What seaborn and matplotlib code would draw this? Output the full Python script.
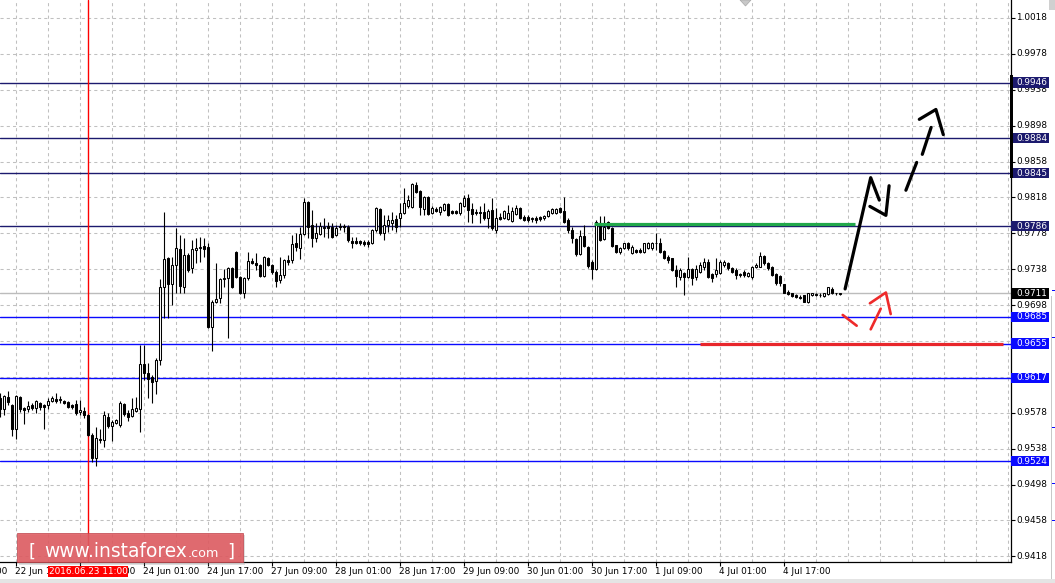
import numpy as np
import pandas as pd
import matplotlib
matplotlib.use("Agg")
import matplotlib.pyplot as plt
import seaborn as sns
from matplotlib.patches import Rectangle, Polygon
from matplotlib.transforms import blended_transform_factory

# ---------------- data (prices in pips, 0.9711 -> 9711) ----------------
open_p = [
    9594, 9582, 9596, 9587, 9560, 9596, 9583, 9582, 9587, 9583,
    9589, 9587, 9587, 9591, 9593, 9592, 9591, 9590, 9587, 9588,
    9579, 9580, 9576, 9553, 9528, 9548, 9548, 9573, 9563, 9567,
    9564, 9588, 9578, 9574, 9580, 9582, 9632, 9622, 9618, 9613,
    9637, 9718, 9751, 9721, 9743, 9761, 9718, 9754, 9739, 9759,
    9762, 9764, 9763, 9674, 9702, 9706, 9727, 9728, 9739, 9757,
    9729, 9712, 9728, 9747, 9745, 9743, 9730, 9751, 9743, 9735,
    9726, 9732, 9748, 9748, 9767, 9762, 9777, 9813, 9787, 9773,
    9777, 9785, 9786, 9785, 9776, 9786, 9786, 9785, 9769, 9769,
    9769, 9768, 9768, 9767, 9782, 9805, 9778, 9787, 9789, 9794,
    9795, 9801, 9808, 9807, 9832, 9825, 9805, 9818, 9801, 9805,
    9802, 9804, 9811, 9803, 9803, 9801, 9808, 9817, 9805, 9802,
    9802, 9802, 9795, 9804, 9782, 9796, 9795, 9794, 9792, 9800,
    9806, 9796, 9796, 9794, 9795, 9796, 9795, 9797, 9801, 9801,
    9806, 9803, 9793, 9782, 9772, 9755, 9775, 9763, 9746, 9738,
    9789, 9772, 9791, 9784, 9765, 9757, 9762, 9767, 9756, 9759,
    9759, 9757, 9762, 9762, 9767, 9767, 9758, 9752, 9751, 9737,
    9729, 9734, 9729, 9738, 9729, 9735, 9741, 9746, 9733, 9733,
    9734, 9743, 9745, 9739, 9737, 9733, 9735, 9730, 9729, 9741,
    9741, 9753, 9745, 9741, 9733, 9730, 9721, 9713, 9711, 9709,
    9707, 9709, 9701, 9709, 9710, 9709, 9708, 9710, 9716, 9711, 9710,
]
close_p = [
    9582, 9597, 9590, 9560, 9597, 9582, 9581, 9586, 9583, 9591,
    9584, 9584, 9591, 9594, 9591, 9593, 9589, 9584, 9584, 9578,
    9581, 9576, 9553, 9528, 9550, 9549, 9576, 9563, 9568, 9570,
    9589, 9577, 9573, 9582, 9583, 9632, 9622, 9616, 9612, 9637,
    9718, 9749, 9721, 9743, 9762, 9719, 9754, 9737, 9761, 9762,
    9763, 9761, 9674, 9702, 9705, 9727, 9728, 9739, 9718, 9729,
    9712, 9728, 9747, 9745, 9743, 9730, 9752, 9743, 9735, 9725,
    9732, 9748, 9746, 9766, 9763, 9777, 9813, 9785, 9773, 9778,
    9786, 9784, 9784, 9774, 9784, 9785, 9785, 9771, 9767, 9767,
    9767, 9766, 9766, 9782, 9806, 9778, 9787, 9793, 9793, 9785,
    9801, 9812, 9815, 9833, 9824, 9807, 9818, 9800, 9806, 9803,
    9807, 9811, 9798, 9801, 9801, 9812, 9817, 9804, 9800, 9801,
    9801, 9795, 9803, 9784, 9795, 9794, 9803, 9801, 9803, 9806,
    9795, 9793, 9793, 9795, 9793, 9794, 9797, 9803, 9805, 9805,
    9802, 9791, 9782, 9773, 9755, 9775, 9764, 9742, 9738, 9791,
    9771, 9785, 9784, 9764, 9757, 9762, 9767, 9762, 9763, 9757,
    9757, 9767, 9767, 9767, 9767, 9757, 9751, 9748, 9737, 9730,
    9737, 9729, 9738, 9728, 9738, 9743, 9746, 9729, 9728, 9737,
    9746, 9746, 9739, 9735, 9732, 9732, 9732, 9734, 9741, 9743,
    9753, 9745, 9739, 9732, 9723, 9723, 9712, 9710, 9708, 9707,
    9706, 9702, 9711, 9711, 9709, 9709, 9711, 9718, 9711, 9711, 9711,
]
high_p = [
    9600, 9598, 9602, 9588, 9598, 9597, 9584, 9591, 9589, 9592,
    9590, 9588, 9594, 9597, 9600, 9597, 9592, 9591, 9588, 9592,
    9592, 9584, 9577, 9555, 9562, 9560, 9580, 9578, 9570, 9571,
    9591, 9589, 9581, 9594, 9596, 9653, 9653, 9633, 9620, 9639,
    9727, 9802, 9752, 9752, 9784, 9776, 9773, 9756, 9771, 9773,
    9774, 9773, 9767, 9704, 9745, 9728, 9738, 9741, 9741, 9758,
    9730, 9729, 9757, 9751, 9756, 9744, 9753, 9752, 9744, 9737,
    9752, 9749, 9754, 9776, 9778, 9785, 9817, 9814, 9804, 9789,
    9791, 9795, 9791, 9789, 9787, 9789, 9788, 9787, 9774, 9774,
    9771, 9771, 9771, 9783, 9807, 9806, 9798, 9798, 9802, 9798,
    9812, 9828, 9821, 9834, 9835, 9826, 9820, 9820, 9808, 9807,
    9808, 9812, 9812, 9804, 9804, 9813, 9821, 9822, 9812, 9805,
    9808, 9812, 9805, 9817, 9806, 9801, 9804, 9810, 9807, 9810,
    9807, 9798, 9798, 9796, 9797, 9797, 9798, 9804, 9806, 9806,
    9807, 9818, 9795, 9785, 9773, 9782, 9787, 9764, 9748, 9793,
    9797, 9797, 9792, 9785, 9765, 9763, 9767, 9768, 9765, 9761,
    9762, 9767, 9768, 9768, 9778, 9773, 9759, 9754, 9751, 9743,
    9739, 9735, 9752, 9739, 9743, 9746, 9751, 9749, 9734, 9751,
    9748, 9748, 9746, 9741, 9739, 9734, 9737, 9735, 9742, 9745,
    9757, 9754, 9746, 9742, 9734, 9732, 9722, 9715, 9712, 9710,
    9709, 9709, 9712, 9712, 9711, 9711, 9712, 9718, 9718, 9712, 9711,
]
low_p = [
    9573, 9576, 9587, 9552, 9549, 9579, 9566, 9579, 9581, 9578,
    9581, 9560, 9582, 9590, 9589, 9589, 9588, 9583, 9582, 9576,
    9576, 9572, 9552, 9523, 9519, 9544, 9540, 9561, 9547, 9566,
    9562, 9574, 9569, 9573, 9579, 9557, 9614, 9594, 9589, 9599,
    9631, 9684, 9684, 9698, 9711, 9711, 9711, 9735, 9734, 9745,
    9746, 9752, 9672, 9647, 9700, 9700, 9718, 9661, 9717, 9728,
    9710, 9706, 9726, 9744, 9737, 9729, 9729, 9742, 9733, 9718,
    9723, 9728, 9743, 9745, 9758, 9749, 9776, 9773, 9763, 9768,
    9776, 9774, 9773, 9773, 9775, 9782, 9779, 9768, 9762, 9766,
    9765, 9764, 9763, 9766, 9779, 9776, 9771, 9779, 9782, 9779,
    9785, 9800, 9806, 9806, 9823, 9798, 9798, 9798, 9800, 9802,
    9798, 9803, 9797, 9800, 9800, 9798, 9807, 9791, 9789, 9798,
    9789, 9793, 9784, 9782, 9778, 9793, 9794, 9793, 9791, 9798,
    9794, 9792, 9791, 9791, 9789, 9792, 9793, 9796, 9800, 9800,
    9801, 9789, 9778, 9767, 9753, 9754, 9763, 9739, 9727, 9737,
    9769, 9771, 9783, 9763, 9756, 9755, 9761, 9759, 9755, 9756,
    9756, 9756, 9761, 9759, 9759, 9756, 9749, 9745, 9736, 9718,
    9726, 9709, 9728, 9720, 9726, 9734, 9737, 9728, 9724, 9729,
    9733, 9741, 9737, 9734, 9727, 9729, 9729, 9729, 9727, 9739,
    9740, 9743, 9737, 9730, 9720, 9719, 9711, 9709, 9707, 9706,
    9705, 9701, 9700, 9708, 9708, 9707, 9707, 9709, 9710, 9709, 9709,
]

# x-axis time labels (bar index -> label)
xlabel_bars = [-12, 4, 20, 36, 52, 68, 84, 100, 116, 132, 148, 164, 180, 196]
xlabel_text = ["22 Jun 01:00", "22 Jun 17:00", "23 Jun 09:00", "24 Jun 01:00",
               "24 Jun 17:00", "27 Jun 09:00", "28 Jun 01:00", "28 Jun 17:00",
               "29 Jun 09:00", "30 Jun 01:00", "30 Jun 17:00", "1 Jul 09:00",
               "4 Jul 01:00", "4 Jul 17:00"]
crosshair_bar = 22
crosshair_label = "2016.06.23 11:00"

# price scale (labels hidden behind level boxes are left out)
ytick_prices = [0.9418, 0.9458, 0.9498, 0.9538, 0.9578, 0.9618, 0.9658, 0.9698,
                0.9738, 0.9778, 0.9818, 0.9858, 0.9898, 0.9938, 0.9978, 1.0018]
ytick_hidden = [0.9618, 0.9658]

# horizontal levels
level_prices = [0.9946, 0.9884, 0.9845, 0.9786, 0.9685, 0.9655, 0.9617, 0.9524]
level_kind = ["navy", "navy", "navy", "navy", "blue", "blue", "blue", "blue"]
bid_price = 0.9711

# drawn annotations (bar index, pips)
green_seg_x = [148.4, 213.7]
green_seg_y = [9788, 9788]
red_seg_x = [174.9, 250.7]
red_seg_y = [9655, 9655]
black_up_x = [211.2, 217.6, 219.75]
black_up_y = [9716, 9840, 9815]
black_v_x = [217.4, 221.4, 222.2]
black_v_y = [9808, 9798, 9831]
black_dash1_x = [226.4, 229.1]
black_dash1_y = [9826, 9857]
black_dash2_x = [230.5, 232.7]
black_dash2_y = [9866, 9896]
black_head_x = [229.75, 233.9, 235.75]
black_head_y = [9905, 9916, 9888]
red1_x = [210.6, 214.1]
red1_y = [9687, 9675]
red2_x = [217.6, 220.1]
red2_y = [9671, 9694]
red_head_x = [217.4, 221.4, 222.6]
red_head_y = [9700, 9712, 9688]

# ---------------- figure ----------------
sns.set_theme(style="white")
plt.rcParams['font.family'] = ['DejaVu Sans']

W, H = 1055, 583
fig = plt.figure(figsize=(W / 100, H / 100), dpi=100)
fig.patch.set_facecolor('white')
AX_R, AX_B = 1011, 562
ax = fig.add_axes([0, (H - AX_B) / H, AX_R / W, AX_B / H])
ax.set_facecolor('white')

df = pd.DataFrame({"o": open_p, "h": high_p, "l": low_p, "c": close_p}) / 10000.0
df["i"] = np.arange(len(df))

ax.set_xlim(-0.075, 252.675)
ax.set_ylim(0.94117, 1.0038)

NAVY = '#1c1a6e'
BLUE = '#0a0aff'
GRID = '#c0c0c0'
FS = 6.4

# grid
for p in ytick_prices:
    ax.axhline(p, color=GRID, lw=0.75, ls=(0, (3, 3)), zorder=0.5)
for b in range(4, 253, 8):
    ax.axvline(b, color=GRID, lw=0.75, ls=(0, (3, 3)), zorder=0.5)

# levels
ax.axhline(bid_price, color='#bcbcbc', lw=1.0, zorder=1)
for p, k in zip(level_prices, level_kind):
    ax.axhline(p, color=NAVY if k == "navy" else BLUE, lw=1.0, zorder=1.2)
ax.axvline(crosshair_bar, color='#ff0000', lw=1.0, zorder=1.3)

# candles
up = df["c"] >= df["o"]
ax.vlines(df["i"], df["l"], df["h"], color='black', lw=0.8, zorder=3)
body_bottom = np.minimum(df["o"], df["c"])
body_h = np.maximum((df["c"] - df["o"]).abs(), 0.00003)
ax.bar(df["i"], body_h, bottom=body_bottom, width=0.5,
       color=np.where(up, 'white', 'black'), edgecolor='black',
       linewidth=0.75, zorder=4)

# annotations
def P(v):
    return np.asarray(v) / 10000.0

ax.plot(green_seg_x, P(green_seg_y), color='#22a84b', lw=2.3, zorder=5, solid_capstyle='butt')
ax.plot(red_seg_x, P(red_seg_y), color='#e8262b', lw=2.3, zorder=5, solid_capstyle='butt')
for xs, ys in [(black_up_x, black_up_y), (black_v_x, black_v_y),
               (black_dash1_x, black_dash1_y), (black_dash2_x, black_dash2_y),
               (black_head_x, black_head_y)]:
    ax.plot(xs, P(ys), color='black', lw=2.3, zorder=6,
            solid_capstyle='round', solid_joinstyle='round')
for xs, ys in [(red1_x, red1_y), (red2_x, red2_y), (red_head_x, red_head_y)]:
    ax.plot(xs, P(ys), color='#ee2a2a', lw=1.9, zorder=6,
            solid_capstyle='round', solid_joinstyle='round')

# spines / ticks
for s in ['left', 'top']:
    ax.spines[s].set_visible(False)
for s in ['right', 'bottom']:
    ax.spines[s].set_color('black')
    ax.spines[s].set_linewidth(0.9)
ax.set_xticks([b for b in xlabel_bars if b >= 0])
ax.set_xticklabels([])
ax.tick_params(axis='x', bottom=True, direction='out', length=3, width=0.8,
               color='black', labelbottom=False)
ax.yaxis.tick_right()
ax.set_yticks(ytick_prices)
ax.set_yticklabels([])
ax.tick_params(axis='y', right=True, left=False, direction='out', length=3,
               width=0.8, color='black', labelright=False)

# x labels
tx = blended_transform_factory(ax.transData, fig.transFigure)
for b, t in zip(xlabel_bars, xlabel_text):
    ax.text(b - 0.25, 1 - 571.5 / H, t, transform=tx, ha='left', va='center',
            fontsize=FS, color='black', clip_on=False, zorder=7)

# y labels
ty = blended_transform_factory(fig.transFigure, ax.transData)
for p in ytick_prices:
    if p in ytick_hidden:
        continue
    ax.text(1016 / W, p, f"{p:.4f}", transform=ty, ha='left', va='center',
            fontsize=FS, color='black', clip_on=False, zorder=7)

# price boxes
box_h = 10.5 / 8973.4
boxes = [(p, NAVY if k == "navy" else BLUE) for p, k in zip(level_prices, level_kind)]
boxes.append((bid_price, 'black'))
for p, col in boxes:
    ax.add_patch(Rectangle((AX_R / W, p - box_h / 2), 38 / W, box_h, transform=ty,
                           facecolor=col, edgecolor='none', clip_on=False, zorder=8))
    ax.text(1016 / W, p, f"{p:.4f}", transform=ty, ha='left', va='center',
            fontsize=FS, color='white', clip_on=False, zorder=9)

# thick marker on price scale
ax.add_patch(Rectangle((1009.5 / W, 0.98396), 3 / W, 0.99544 - 0.98396, transform=ty,
                       facecolor='black', edgecolor='none', clip_on=False, zorder=9))


def fr(x, y, w, h, **kw):
    return Rectangle((x / W, 1 - (y + h) / H), w / W, h / H,
                     transform=fig.transFigure, **kw)

# crosshair time label
fig.add_artist(fr(48, 566, 80, 10.5, facecolor='#ff0000', edgecolor='none', zorder=10))
fig.text(88 / W, 1 - 571.5 / H, crosshair_label, ha='center', va='center',
         fontsize=FS, color='white', zorder=11)

# watermark
fig.add_artist(fr(19, 535, 226, 30, facecolor='#808080', edgecolor='none',
                  alpha=0.25, zorder=10))
fig.add_artist(fr(17, 533, 226, 29, facecolor='#e05a60', edgecolor='#c04850',
                  lw=0.6, alpha=0.88, zorder=11))
renderer = fig.canvas.get_renderer()
fig.text(29 / W, 1 - 557 / H, "[", fontsize=13, color='white', va='baseline', zorder=12)
t_main = fig.text(44 / W, 1 - 557 / H, "www.instaforex", fontsize=13.4, color='white',
                  va='baseline', zorder=12)
x_end = t_main.get_window_extent(renderer).x1
fig.text((x_end + 0.5) / W, 1 - 557 / H, ".com", fontsize=9.2, color='white',
         va='baseline', zorder=12)
fig.text(227.5 / W, 1 - 557 / H, "]", fontsize=13, color='white', va='baseline', zorder=12)

# small shift marker at the top
fig.add_artist(Polygon([(740 / W, 1.0), (751 / W, 1.0), (745.5 / W, 1 - 6 / H)],
                       closed=True, transform=fig.transFigure,
                       facecolor='#c8c8c8', edgecolor='#a8a8a8', lw=0.5, zorder=10))

# neighbouring window edge on the far right
fig.add_artist(fr(1051, 296, 1, 287, facecolor='#c8c8c8', edgecolor='none', zorder=1))
fig.add_artist(fr(1049, 0, 6, 10, facecolor='#d0d0d0', edgecolor='none', zorder=1))
for yy in [290, 337, 427, 483, 520]:
    fig.add_artist(fr(1052, yy, 3, 1, facecolor=BLUE, edgecolor='none', zorder=1))

# bottom status strip
fig.add_artist(fr(0, 579, W, 4, facecolor='#e4e4e4', edgecolor='none', zorder=1))

fig.savefig("out.png", dpi=100)
